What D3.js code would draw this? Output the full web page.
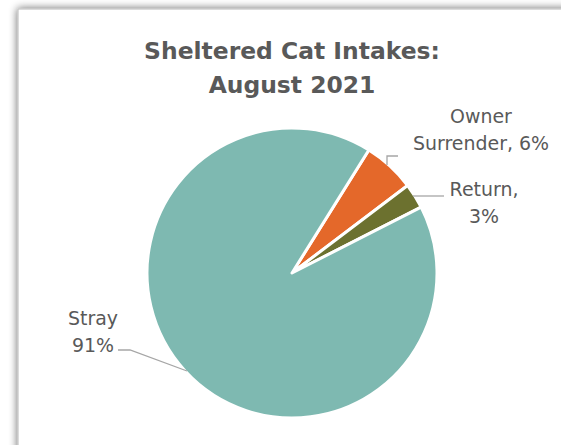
<!DOCTYPE html>
<html><head><meta charset="utf-8">
<script src="https://cdn.jsdelivr.net/npm/d3@7/dist/d3.min.js"></script>
<style>html,body{margin:0;padding:0;background:#fff;}svg{display:block;}</style>
</head><body>
<script>
const categories = ["Owner Surrender", "Return", "Stray"];
const values = [5.8, 2.8, 91.4];
const labelText = [["Owner", "Surrender, 6%"], ["Return,", "3%"], ["Stray", "91%"]];
const titleLines = ["Sheltered Cat Intakes:", "August 2021"];
const colors = ["#E4682A", "#6C712F", "#7EB9B1"];

const W = 561, H = 445;
const svg = d3.select("body").append("svg").attr("width", W).attr("height", H);
const defs = svg.append("defs");
const f = defs.append("filter").attr("id", "sh").attr("x", "-10%").attr("y", "-10%").attr("width", "130%").attr("height", "130%");
f.append("feGaussianBlur").attr("in", "SourceAlpha").attr("stdDeviation", 4).attr("result", "b");
f.append("feComponentTransfer").attr("in", "b").attr("result", "c")
  .append("feFuncA").attr("type", "linear").attr("slope", 0.6);
const m = f.append("feMerge");
m.append("feMergeNode").attr("in", "c");
m.append("feMergeNode").attr("in", "SourceGraphic");

svg.append("rect").attr("x", 18).attr("y", 9).attr("width", 620).attr("height", 520)
  .attr("fill", "#fff").attr("stroke", "#c4c4c4").attr("stroke-width", 1.2).attr("filter", "url(#sh)");

const font = "'Century Gothic', 'URW Gothic', 'DejaVu Sans', sans-serif";

function fitSize(text, weight, target, base) {
  const t = svg.append("text").attr("font-family", font).attr("font-weight", weight)
    .attr("font-size", base).text(text);
  const w = t.node().getComputedTextLength();
  t.remove();
  return base * target / w;
}

const titleSize = fitSize(titleLines[0], "bold", 296, 20);
const title = svg.append("text").attr("text-anchor", "middle").attr("fill", "#595959")
  .attr("font-family", font).attr("font-weight", "bold").attr("font-size", titleSize);
titleLines.forEach((t, i) => title.append("tspan").attr("x", 292).attr("y", 59 + i * 34).text(t));

const cx = 292, cy = 273, r = 145;
const start = 32 * Math.PI / 180;
const pie = d3.pie().sort(null).startAngle(start).endAngle(start + 2 * Math.PI);
const arcs = pie(values);
const arc = d3.arc().innerRadius(0).outerRadius(r);
const g = svg.append("g").attr("transform", `translate(${cx},${cy})`);
g.selectAll("path").data(arcs).join("path")
  .attr("d", arc).attr("fill", (d, i) => colors[i])
  .attr("stroke", "#fff").attr("stroke-width", 3).attr("stroke-linejoin", "round");

// leader lines
const leaders = [
  [[398, 156], [387, 156], [387, 165]],
  [[444, 196], [413, 196]],
  [[118, 350], [130, 350], [187, 371]]
];
svg.selectAll("path.leader").data(leaders).join("path").attr("class", "leader")
  .attr("d", d => d3.line()(d)).attr("fill", "none").attr("stroke", "#a6a6a6").attr("stroke-width", 1.3);

const labelSize = fitSize("Surrender, 6%", "normal", 136, 18);
const labelPos = [[481, 123, 27], [484, 196, 27], [93, 325, 27]];
labelText.forEach((lines, i) => {
  const t = svg.append("text").attr("text-anchor", "middle").attr("fill", "#595959")
    .attr("font-family", font).attr("font-size", labelSize);
  lines.forEach((s, j) => t.append("tspan").attr("x", labelPos[i][0]).attr("y", labelPos[i][1] + j * labelPos[i][2]).text(s));
});
</script>
</body></html>
